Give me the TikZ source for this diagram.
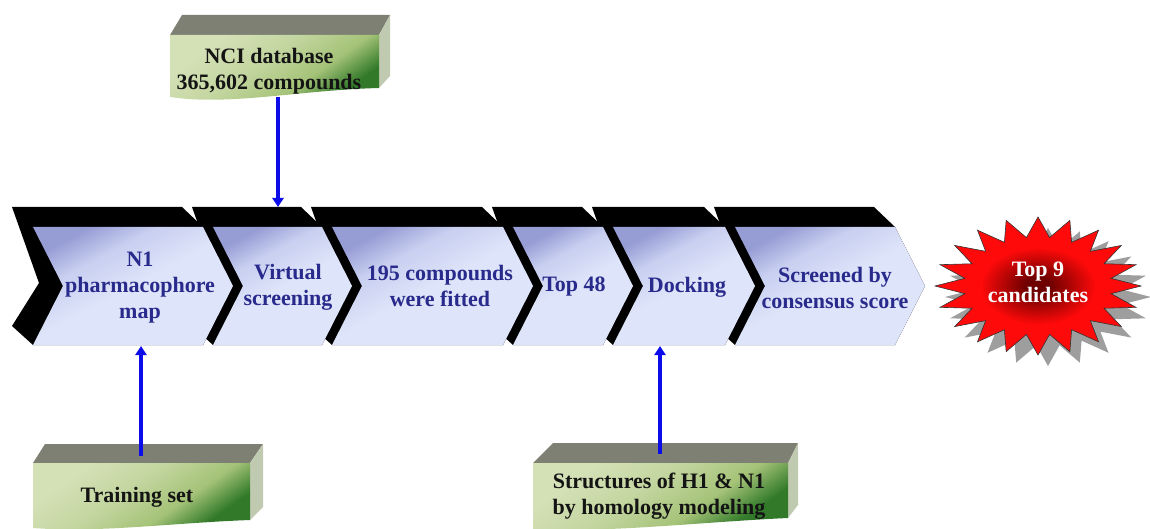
\documentclass[tikz,border=0pt]{standalone}
\usepackage{fontspec}
\setmainfont{Liberation Serif}
\usetikzlibrary{arrows.meta}

\definecolor{chevtext}{RGB}{40,42,140}
\definecolor{chevdark}{RGB}{150,156,212}
\definecolor{chevmid}{RGB}{200,207,240}
\definecolor{chevlight}{RGB}{222,228,249}
\definecolor{boxtop}{RGB}{125,128,114}
\definecolor{boxside}{RGB}{192,202,176}
\definecolor{boxlight}{RGB}{212,224,182}
\definecolor{boxmid}{RGB}{165,195,120}
\definecolor{boxdark}{RGB}{50,122,42}
\definecolor{arrowblue}{RGB}{12,12,235}
\definecolor{starcore}{RGB}{110,0,0}
\definecolor{starred}{RGB}{255,10,10}

% face of a process step: light lavender, darker towards the upper edge
\pgfdeclareverticalshading{chevface}{100bp}{color(0bp)=(chevlight); color(50bp)=(chevlight);
  color(64bp)=(chevmid); color(75bp)=(chevdark); color(100bp)=(chevdark)}
% front face of an input block: pale green, deepening to green at the lower right
\pgfdeclareverticalshading{boxface}{100bp}{color(0bp)=(boxdark); color(28bp)=(boxdark);
  color(40bp)=(boxmid); color(56bp)=(boxlight!65!boxmid); color(72bp)=(boxlight); color(100bp)=(boxlight)}
% glowing core of the result burst
\pgfdeclareradialshading{burstglow}{\pgfpoint{0bp}{0bp}}{color(0bp)=(starcore);
  color(3bp)=(starcore); color(14bp)=(starred); color(50bp)=(starred)}

\begin{document}
\begin{tikzpicture}[x=1pt,y=-1pt,
  lbl/.style={font=\fontsize{22}{26}\selectfont\bfseries, align=center, inner sep=0pt},
  steplbl/.style={lbl, text=chevtext},
  boxlbl/.style={lbl, text=black!92},
  link/.style={draw=arrowblue, line width=3.2pt, -{Triangle[width=11pt,length=9pt]}},
  blocktop/.style={fill=boxtop},
  blockside/.style={fill=boxside},
  blockfront/.style={shading=boxface, shading angle=35}]

\useasboundingbox (0,0) rectangle (1150,529);

% ---- process band: chevrons drawn right to left so each overlaps its successor
\foreach \l/\r in {735/895, 613/725, 513/603, 332/503, 213/322, 33/203} {
  \fill[black] ({\l-21},207) -- ({\r-21},207) -- (\r,227) -- ({\r+30},286) -- (\r,345)
    -- (\l,345) -- ({\l-21},326) -- ({\l+6},283) -- cycle;
  \shade[shading=chevface, shading angle=28] (\l,227) -- (\r,227) -- ({\r+30},286)
    -- (\r,345) -- (\l,345) -- ({\l+30},286) -- cycle;
}

\node[steplbl] (s1) at (140,288) {N1\\pharmacophore\\map};
\node[steplbl] (s2) at (288,287) {Virtual\\screening};
\node[steplbl] (s3) at (440,286) {195 compounds\\were fitted};
\node[steplbl] (s4) at (574,287) {Top 48};
\node[steplbl] (s5) at (687,287) {Docking};
\node[steplbl] (s6) at (835,288) {Screened by\\consensus score};

% ---- input blocks
% NCI database
\fill[blocktop] (170,35) -- (182,15) -- (390,15) -- (379,35) -- cycle;
\fill[blockside] (379,35) -- (390,15) -- (390,76) -- (379,88) -- cycle;
\shade[blockfront] (170,35) -- (379,35) -- (379,88)
  .. controls (300,90) and (230,106) .. (170,97) -- cycle;
\node[boxlbl] (nci) at (269,71) {NCI database\\365,602 compounds};

% training set
\fill[blocktop] (33,463) -- (45,444) -- (263,444) -- (250,463) -- cycle;
\fill[blockside] (250,463) -- (263,444) -- (263,507) -- (250,520) -- cycle;
\shade[blockfront] (33,463) -- (250,463) -- (250,520)
  .. controls (170,523) and (100,533) .. (33,528) -- cycle;
\node[boxlbl] (train) at (137,497) {Training set};

% homology models
\fill[blocktop] (533,463) -- (553,443) -- (798,443) -- (788,463) -- cycle;
\fill[blockside] (788,463) -- (798,443) -- (798,505) -- (788,518) -- cycle;
\shade[blockfront] (533,463) -- (788,463) -- (788,518)
  .. controls (700,522) and (610,533) .. (533,529) -- cycle;
\node[boxlbl] (homol) at (659,496) {Structures of H1 \& N1\\by homology modeling};

% ---- connectors
\coordinate (nciFoot) at (278,97);
\coordinate (bandTop) at (278,207);
\coordinate (trainFoot) at (141,456);
\coordinate (bandLow1) at (141,346);
\coordinate (homolFoot) at (660,454);
\coordinate (bandLow5) at (660,346);
\draw[link] (nciFoot) -- (bandTop);
\draw[link] (trainFoot) -- (bandLow1);
\draw[link] (homolFoot) -- (bandLow5);

% ---- result burst with drop shadow
\fill[black!38] (1151,297) \foreach \k in {1,...,39} {
  -- ({1048+ifthenelse(mod(\k,2)==0,103,74)*cos(\k*9)}, {297+ifthenelse(mod(\k,2)==0,69,49)*sin(\k*9)}) } -- cycle;
\shade[shading=burstglow, draw=black!80, line width=0.6pt]
  (1141,286) \foreach \k in {1,...,39} {
  -- ({1038+ifthenelse(mod(\k,2)==0,103,74)*cos(\k*9)}, {286+ifthenelse(mod(\k,2)==0,69,49)*sin(\k*9)}) } -- cycle;
\node[lbl, text=white] (top9) at (1038,282) {Top 9\\candidates};

\end{tikzpicture}
\end{document}
